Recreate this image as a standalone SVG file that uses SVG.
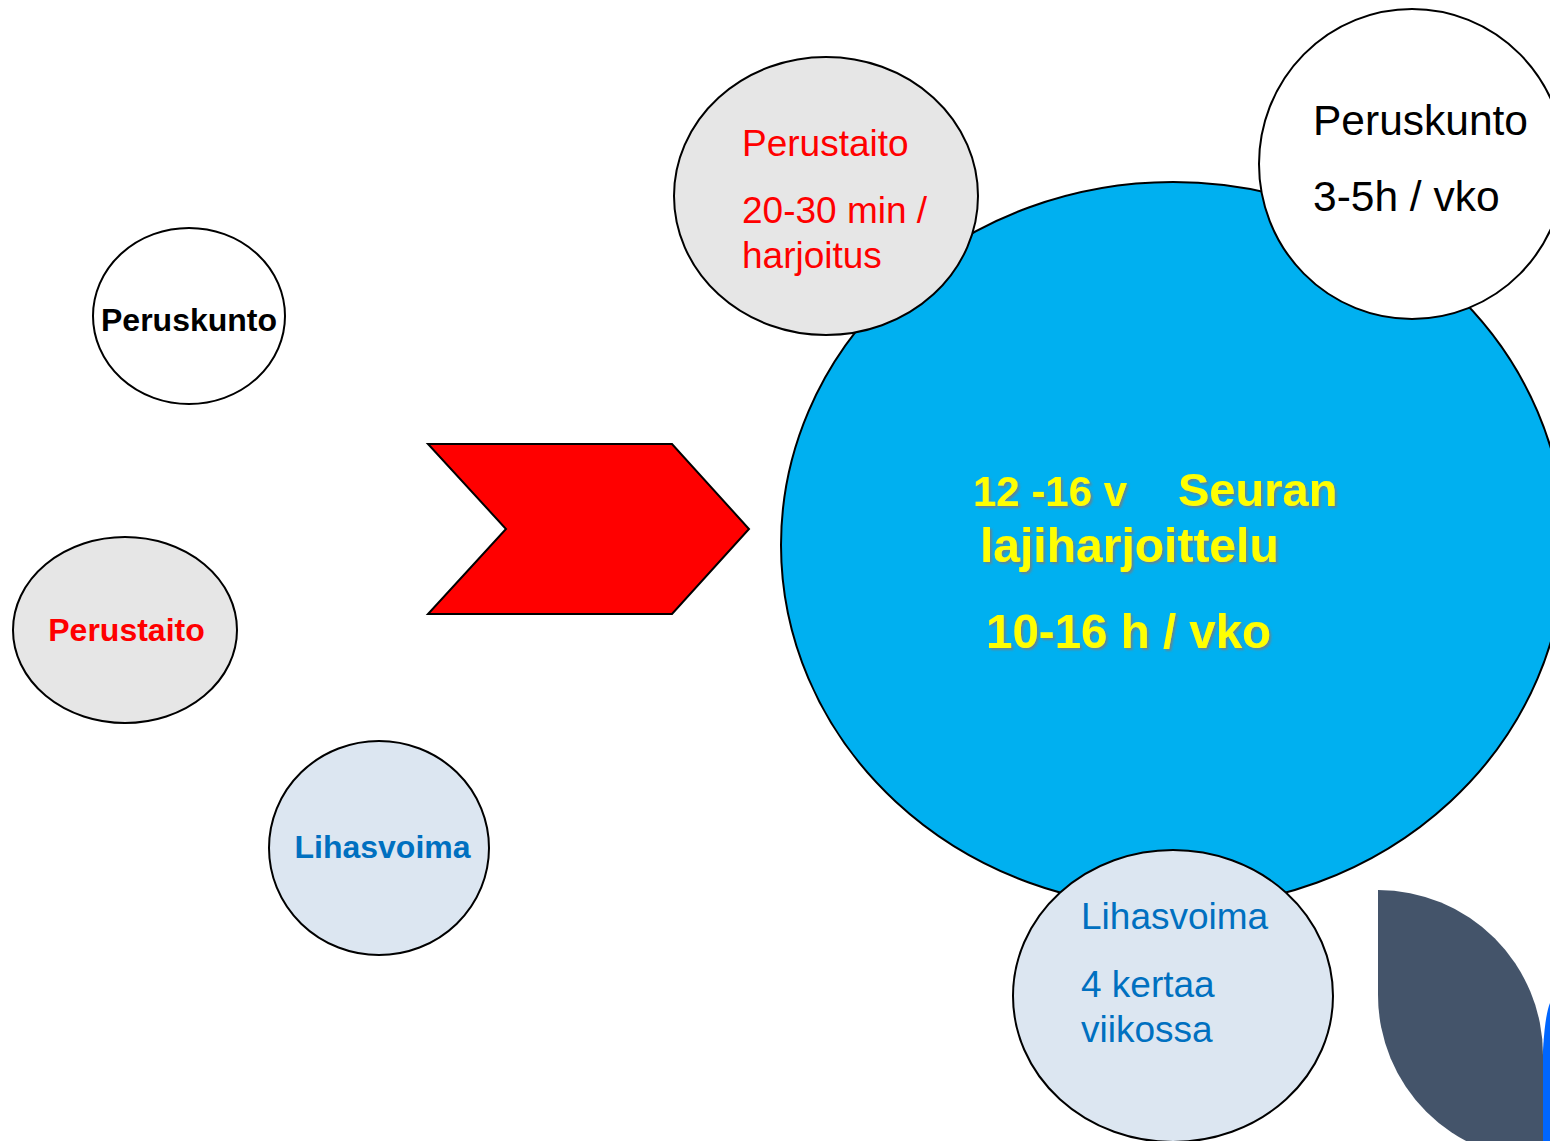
<svg xmlns="http://www.w3.org/2000/svg" width="1550" height="1141" viewBox="0 0 1550 1141">
<style>
.n{stroke:#000;stroke-width:2}
.t{font-family:"Liberation Sans",Arial,sans-serif}
.b{font-weight:bold}
.red{fill:#FF0000}
.blu{fill:#0070C0}
.blk{fill:#000}
.yel{fill:#FFFF00;font-family:"Liberation Sans",Arial,sans-serif;font-weight:bold;filter:url(#sh)}
</style>
<defs>
<filter id="sh" x="-10%" y="-20%" width="120%" height="150%">
<feDropShadow dx="2" dy="2" stdDeviation="1" flood-color="#7a7a7a" flood-opacity="0.8"/>
</filter>
</defs>
<rect width="1550" height="1141" fill="#fff"/>
<g id="connectors">
<polygon id="chevron" points="428,444 672,444 749,529 672,614 428,614 506,529" fill="#FF0000" stroke="#000" stroke-width="2"/>
</g>
<g id="main">
<ellipse class="n" cx="1173" cy="545" rx="392" ry="363" fill="#00B0F0"/>
<text class="yel" x="973" y="506" font-size="42">12 -16 v</text>
<text class="yel" x="1178" y="506" font-size="47">Seuran</text>
<text class="yel" x="980" y="562" font-size="48">lajiharjoittelu</text>
<text class="yel" x="986" y="648" font-size="47.5">10-16 h / vko</text>
</g>
<g id="perustaito-top">
<ellipse class="n" cx="826" cy="196" rx="152" ry="139" fill="#E6E6E6"/>
<text class="t red" x="742" y="156" font-size="37">Perustaito</text>
<text class="t red" x="742" y="223" font-size="37">20-30 min /</text>
<text class="t red" x="742" y="268" font-size="37">harjoitus</text>
</g>
<g id="peruskunto-top">
<ellipse class="n" cx="1412" cy="164" rx="153" ry="155" fill="#fff"/>
<text class="t blk" x="1313" y="135" font-size="42.5">Peruskunto</text>
<text class="t blk" x="1313" y="211" font-size="42.5">3-5h / vko</text>
</g>
<g id="lihasvoima-bottom">
<ellipse class="n" cx="1173" cy="996" rx="160" ry="146" fill="#DCE6F1"/>
<text class="t blu" x="1081" y="929" font-size="37">Lihasvoima</text>
<text class="t blu" x="1081" y="997" font-size="37">4 kertaa</text>
<text class="t blu" x="1081" y="1042" font-size="37">viikossa</text>
</g>
<g id="peruskunto-left">
<ellipse class="n" cx="189" cy="316" rx="96" ry="88" fill="#fff"/>
<text class="t b blk" x="189" y="331" font-size="32" text-anchor="middle">Peruskunto</text>
</g>
<g id="perustaito-left">
<ellipse class="n" cx="125" cy="630" rx="112" ry="93" fill="#E6E6E6"/>
<text class="t b red" x="126.5" y="641" font-size="32" text-anchor="middle">Perustaito</text>
</g>
<g id="lihasvoima-left">
<ellipse class="n" cx="379" cy="848" rx="110" ry="107" fill="#DCE6F1"/>
<text class="t b blu" x="382.5" y="858" font-size="32" text-anchor="middle">Lihasvoima</text>
</g>
<g id="deco">
<path d="M1378,890 A165,165 0 0 1 1543,1055 L1543,1160 A165,165 0 0 1 1378,995 Z" fill="#44546A"/>
<path d="M1543,1141 L1543,1050 Q1545,1015 1550,1003 L1550,1141 Z" fill="#0066FF"/>
</g>
</svg>
